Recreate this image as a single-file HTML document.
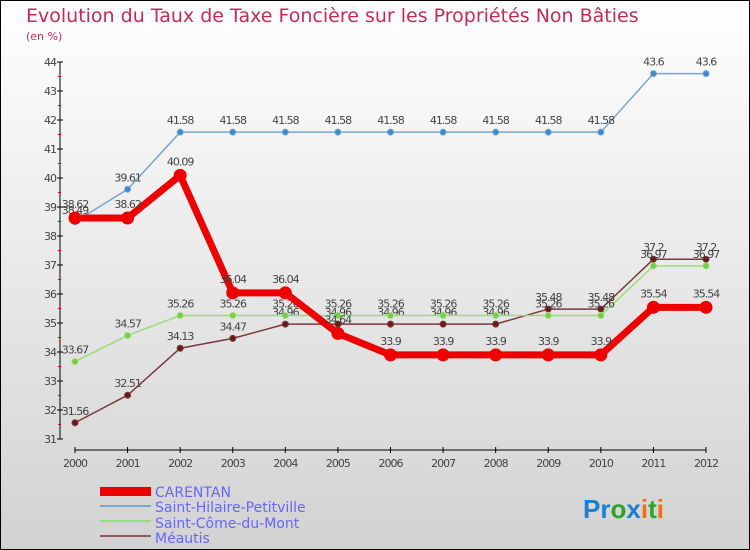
<!DOCTYPE html>
<html><head><meta charset="utf-8"><style>
body{margin:0}
#c{width:750px;height:550px;position:relative;overflow:hidden;font-family:"DejaVu Sans","Liberation Sans",sans-serif}
</style></head><body>
<div id="c">
<svg id="s" width="750" height="550" xmlns="http://www.w3.org/2000/svg">
<defs><linearGradient id="bg" x1="0" y1="0" x2="0" y2="1"><stop offset="0" stop-color="#ffffff"/><stop offset="1" stop-color="#d2d2d2"/></linearGradient></defs>
<rect x="0.5" y="0.5" width="749" height="549" fill="url(#bg)" stroke="#000"/>
<text x="26" y="22" font-size="19" fill="#c8285a">Evolution du Taux de Taxe Foncière sur les Propriétés Non Bâties</text>
<text x="26" y="40" font-size="11" fill="#c8285a">(en %)</text>
<g id="axes"></g><g id="series"></g>
<g>
<rect x="100" y="487" width="51" height="9" fill="#e00"/>
<text x="155" y="497" font-size="14" fill="#6666ff">CARENTAN</text>
<line x1="100" y1="506" x2="151" y2="506" stroke="#7aa7cf" stroke-width="2"/>
<text x="155" y="512" font-size="14" fill="#6666ff">Saint-Hilaire-Petitville</text>
<line x1="100" y1="521" x2="151" y2="521" stroke="#99dd77" stroke-width="2"/>
<text x="155" y="528" font-size="14" fill="#6666ff">Saint-Côme-du-Mont</text>
<line x1="100" y1="536" x2="151" y2="536" stroke="#8b5a5a" stroke-width="2"/>
<text x="155" y="543" font-size="14" fill="#6666ff">Méautis</text>
</g>
<text x="583" y="518" font-size="26" font-weight="bold" font-family="Liberation Sans,sans-serif"><tspan fill="#1a7fd0">Pr</tspan><tspan fill="#2aa52a">o</tspan><tspan fill="#1a7fd0">x</tspan><tspan fill="#f07010">i</tspan><tspan fill="#2aa52a">t</tspan><tspan fill="#f07010">i</tspan></text>
</svg>
</div>
<script>
const years=[2000,2001,2002,2003,2004,2005,2006,2007,2008,2009,2010,2011,2012];
const yTicks=[31,32,33,34,35,36,37,38,39,40,41,42,43,44];
const carentan=[38.62,38.62,40.09,36.04,36.04,34.64,33.9,33.9,33.9,33.9,33.9,35.54,35.54];
const hilaire=[38.49,39.61,41.58,41.58,41.58,41.58,41.58,41.58,41.58,41.58,41.58,43.6,43.6];
const come=[33.67,34.57,35.26,35.26,35.26,35.26,35.26,35.26,35.26,35.26,35.26,36.97,36.97];
const meautis=[31.56,32.51,34.13,34.47,34.96,34.96,34.96,34.96,34.96,35.48,35.48,37.2,37.2];
const NS="http://www.w3.org/2000/svg";
const xs=i=>75+i*(706-75)/(years.length-1);
const ys=v=>439-(v-31)*(439-62)/13;
function mk(t,a,p){const e=document.createElementNS(NS,t);for(const k in a)e.setAttribute(k,a[k]);p.appendChild(e);return e;}
const ax=document.getElementById('axes');
const yl=mk('line',{x1:60,y1:62,x2:60,y2:439,stroke:'#000'},ax);


yTicks.forEach(v=>{mk('line',{x1:57,y1:ys(v),x2:63,y2:ys(v),stroke:'#000'},ax);
 if(v<44)mk('line',{x1:58,y1:ys(v+0.5),x2:61,y2:ys(v+0.5),stroke:'#e00'},ax);
 const t=mk('text',{x:56,y:ys(v)+4,'font-size':11,'text-anchor':'end',fill:'#444','letter-spacing':'-1'},ax);t.textContent=v;
 
 });
const xl=mk('line',{x1:75,y1:450,x2:706,y2:450,stroke:'#000'},ax);


years.forEach((y,i)=>{mk('line',{x1:xs(i),y1:447,x2:xs(i),y2:453,stroke:'#000'},ax);
 const t=mk('text',{x:xs(i),y:467,'font-size':11,'text-anchor':'middle',fill:'#444','letter-spacing':'-1'},ax);t.textContent=y;
 
 });
const sg=document.getElementById('series');
function draw(arr,name,col,w,r,dot,dy){
 const g=mk('g',{},sg);
 
 
 mk('polyline',{points:arr.map((v,i)=>xs(i)+','+ys(v)).join(' '),fill:'none',stroke:col,'stroke-width':w,'stroke-linejoin':'round'},g);
 arr.forEach((v,i)=>{const c=mk('circle',{cx:xs(i),cy:ys(v),r:r,fill:dot,stroke:col,'stroke-width':1},g);
  
  
  const t=mk('text',{x:xs(i),y:ys(v)+dy,'font-size':11,'text-anchor':'middle',fill:'#444','letter-spacing':'-1'},g);t.textContent=v;
  
  });
}
draw(meautis,'meautis','#7a3a3a',1.5,3,'#6a1a1a',-8);
draw(come,'saint-come','#99dd77',1.5,3,'#77cc44',-8);
draw(hilaire,'saint-hilaire','#7aa7cf',1.5,3,'#3a8ad0',-8);
draw(carentan,'carentan','#e00',7,6,'#e00',-10);
</script>
</body></html>
